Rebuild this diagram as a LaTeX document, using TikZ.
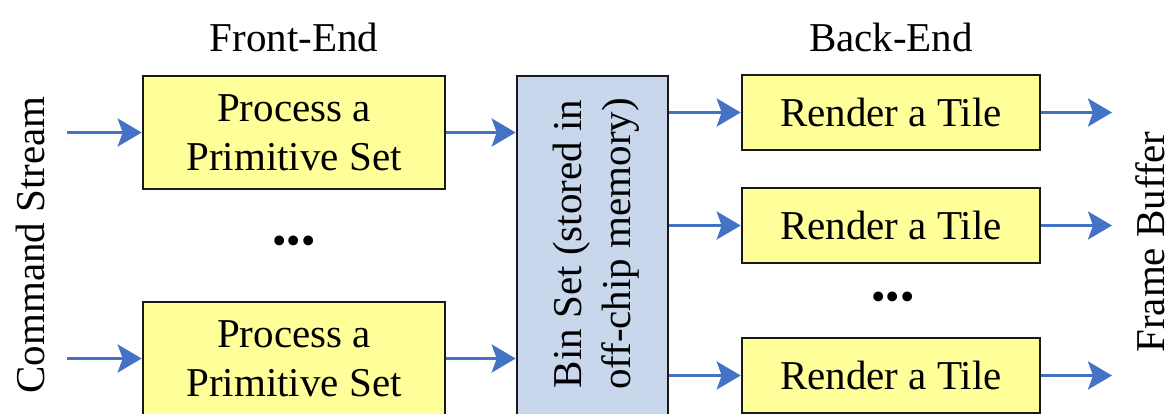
\documentclass[tikz,border=0pt]{standalone}
\usepackage{fontspec}
\newfontfamily\tnr{LiberationSerif}[Extension=.ttf, UprightFont=*-Regular, BoldFont=*-Bold]
\usetikzlibrary{arrows.meta}
\definecolor{boxyellow}{RGB}{255,255,153}
\definecolor{binblue}{RGB}{200,215,236}
\definecolor{arrowblue}{RGB}{68,114,196}
\definecolor{edge}{RGB}{25,25,25}
\tikzset{
  procbox/.style={draw=edge, line width=2.6pt, fill=boxyellow, minimum width=302pt, minimum height=113pt, align=center, inner sep=0pt, font=\tnr\fontsize{41}{49}\selectfont},
  tilebox/.style={draw=edge, line width=2.6pt, fill=boxyellow, minimum width=298pt, minimum height=75pt, inner sep=0pt, font=\tnr\fontsize{41}{49}\selectfont},
  binbox/.style={draw=edge, line width=2.6pt, fill=binblue, minimum width=151pt, minimum height=350pt, inner sep=0pt},
  lbl/.style={inner sep=0pt, font=\tnr\fontsize{41}{49}\selectfont},
  arr/.style={draw=arrowblue, line width=3.2pt, -{Stealth[length=24pt,width=28pt,inset=5pt]}}
}
\begin{document}
\begin{tikzpicture}[x=1pt,y=-1pt]
\useasboundingbox (0,0) rectangle (1173,413);
\clip (0,0) rectangle (1173,413);
\fill[white] (0,0) rectangle (1173,413);
% labels
\node[lbl] (fe) at (294,37) {Front-End};
\node[lbl] (be) at (891,37) {Back-End};
\node[lbl, rotate=90] (cs) at (30,245) {Command Stream};
\node[lbl, rotate=90] (fb) at (1150,242) {Frame Buffer};
% front-end
\node[procbox] (p1) at (294,132.5) {Process a\\Primitive Set};
\node[procbox] (p2) at (294,358.5) {Process a\\Primitive Set};
\node[lbl] (d1) at (294,245) {•••};
% bin set
\node[binbox] (bin) at (592.5,251) {};
\node[lbl, rotate=90, align=center] (bintext) at (596,244) {Bin Set (stored in\\off-chip memory)};
% back-end
\node[tilebox] (r1) at (891,112.5) {Render a Tile};
\node[tilebox] (r2) at (891,225.5) {Render a Tile};
\node[tilebox] (r3) at (891,375.5) {Render a Tile};
\node[lbl] (d2) at (893,301) {•••};
% free ends
\coordinate (i1) at (67,132.5);
\coordinate (i2) at (67,358.5);
\coordinate (o1) at (1112,112.5);
\coordinate (o2) at (1112,225.5);
\coordinate (o3) at (1112,375.5);
% connectors
\draw[arr] (i1) -- (p1.west);
\draw[arr] (i2) -- (p2.west);
\draw[arr] (p1.east) -- (p1.east -| bin.west);
\draw[arr] (p2.east) -- (p2.east -| bin.west);
\draw[arr] (r1.west -| bin.east) -- (r1.west);
\draw[arr] (r2.west -| bin.east) -- (r2.west);
\draw[arr] (r3.west -| bin.east) -- (r3.west);
\draw[arr] (r1.east) -- (o1);
\draw[arr] (r2.east) -- (o2);
\draw[arr] (r3.east) -- (o3);
\end{tikzpicture}
\end{document}
